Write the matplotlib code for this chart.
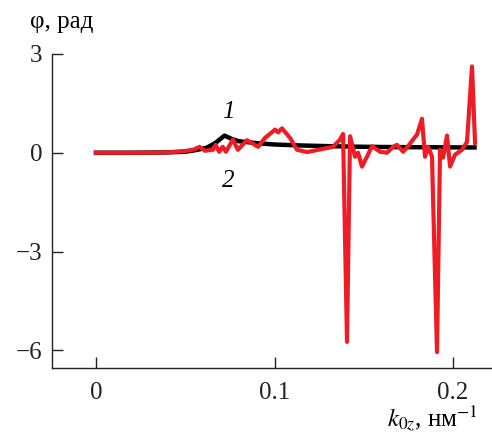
import numpy as np
import matplotlib
matplotlib.use('Agg')
import matplotlib.pyplot as plt

plt.rcParams['font.family'] = ['Liberation Serif', 'DejaVu Serif']
plt.rcParams['mathtext.fontset'] = 'stix'

# curve 1 (black)
k1 = [0.0, 0.02, 0.04, 0.05, 0.056, 0.062, 0.067, 0.072, 0.076, 0.08,
      0.09, 0.1, 0.115, 0.13, 0.15, 0.17, 0.19, 0.212]
phi1 = [0.0, 0.0, 0.01, 0.03, 0.08, 0.15, 0.3, 0.52, 0.42, 0.35,
        0.29, 0.25, 0.22, 0.2, 0.18, 0.17, 0.165, 0.16]

# curve 2 (red)
k2 = [0.0, 0.02, 0.04, 0.047, 0.051, 0.055, 0.058, 0.061, 0.0655, 0.067,
      0.069, 0.071, 0.0728, 0.0767, 0.0795, 0.0846, 0.0908, 0.0947, 0.1003, 0.102,
      0.1042, 0.1087, 0.1126, 0.1182, 0.1255, 0.1328, 0.1367, 0.1384, 0.1406, 0.1423,
      0.1451, 0.1468, 0.149, 0.1518, 0.1546, 0.1591, 0.163, 0.1664, 0.1686, 0.172,
      0.1748, 0.1776, 0.1798, 0.1826, 0.1843, 0.186, 0.1882, 0.191, 0.1927, 0.1944,
      0.1966, 0.1983, 0.2011, 0.205, 0.2078, 0.2106, 0.2123]
phi2 = [0.0, 0.0, 0.01, 0.04, 0.06, 0.1, 0.18, 0.06, 0.09, 0.24,
        0.03, 0.18, 0.03, 0.4, 0.09, 0.38, 0.18, 0.45, 0.7, 0.62,
        0.74, 0.45, 0.09, 0.02, 0.1, 0.18, 0.4, 0.57, -5.74, 0.5,
        -0.12, 0.0, -0.42, -0.12, 0.2, 0.03, 0.0, 0.18, 0.24, 0.03,
        0.2, 0.4, 0.55, 1.03, -0.12, 0.18, -0.12, -6.05, 0.09, -0.15,
        0.52, -0.42, -0.06, 0.09, 0.33, 2.62, 0.3]

fig = plt.figure(figsize=(4.92, 4.38), dpi=100)
ax = fig.add_axes([0.1057, 0.16, 0.8943, 0.717])

ax.plot(k1, phi1, color='black', lw=3.2, solid_joinstyle='round', zorder=2)
ax.plot(k2, phi2, color='#ee1c25', lw=3.0, solid_joinstyle='round', zorder=3)

ax.set_xlim(-0.0246, 0.2218)
ax.set_ylim(-6.53, 3.0)
ax.set_xticks([0, 0.1, 0.2])
ax.set_xticklabels(['0', '0.1', '0.2'])
ax.set_yticks([3, 0, -3, -6])
ax.set_yticklabels(['3', '0', '\u22123', '\u22126'])
ax.tick_params(direction='in', length=8, width=1.0, labelsize=18, colors='#222222')
ax.tick_params(axis='y', pad=7)
ax.tick_params(axis='x', pad=10)
for s in ['top', 'right']:
    ax.spines[s].set_visible(False)
for s in ['left', 'bottom']:
    ax.spines[s].set_linewidth(1.0)
    ax.spines[s].set_color('#222222')

ax.text(0.074, 1.25, '1', fontsize=18, style='italic', ha='center', va='center')
ax.text(0.074, -0.85, '2', fontsize=18, style='italic', ha='center', va='center')

fig.text(0.061, 0.95, '\u03c6, рад', fontsize=18, ha='left', va='center')
fig.text(0.972, 0.025, '$k_{0z}$, нм$^{-1}$', fontsize=18, ha='right', va='baseline')

fig.savefig('out.png', dpi=100)
